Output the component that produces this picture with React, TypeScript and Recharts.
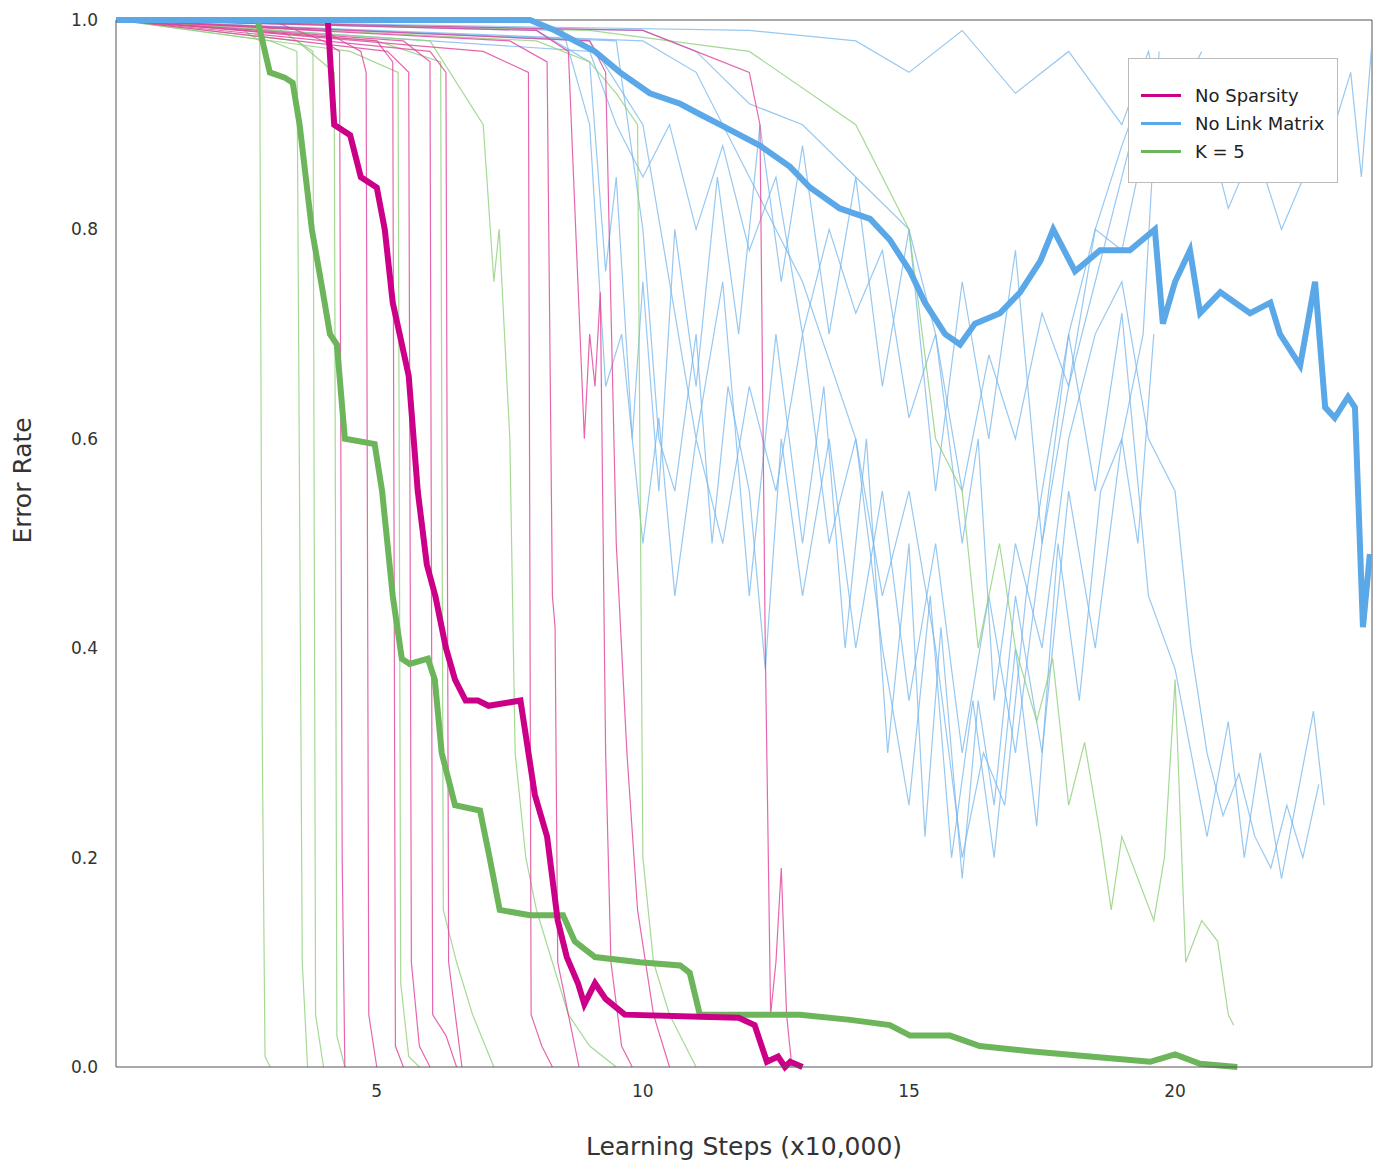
import { LineChart, Line, XAxis, YAxis, ReferenceLine } from 'recharts'

type P = [number, number][]

// thick (mean) curves
const noSparsity: P = [[0.1,1],[4.08,1],[4.2,0.9],[4.5,0.89],[4.7,0.85],[5.0,0.84],[5.15,0.8],[5.3,0.73],[5.43,0.7],[5.6,0.66],[5.77,0.55],[5.94,0.48],[6.1,0.45],[6.3,0.4],[6.47,0.37],[6.67,0.35],[6.9,0.35],[7.1,0.345],[7.7,0.35],[7.97,0.26],[8.2,0.22],[8.4,0.14],[8.57,0.105],[8.78,0.08],[8.9,0.06],[9.1,0.08],[9.3,0.065],[9.66,0.05],[11.07,0.048],[11.8,0.047],[12.1,0.04],[12.33,0.005],[12.54,0.01],[12.67,0],[12.77,0.005],[13.0,0]]
const kFive: P = [[0.1,1],[2.76,1],[2.99,0.95],[3.27,0.945],[3.42,0.94],[3.55,0.9],[3.78,0.8],[3.97,0.745],[4.12,0.7],[4.25,0.69],[4.4,0.6],[4.96,0.595],[5.1,0.55],[5.3,0.45],[5.47,0.39],[5.62,0.385],[5.96,0.39],[6.09,0.37],[6.22,0.3],[6.47,0.25],[6.94,0.245],[7.12,0.2],[7.31,0.15],[7.88,0.145],[8.5,0.145],[8.72,0.12],[9.1,0.105],[9.94,0.1],[10.7,0.097],[10.88,0.09],[11.07,0.05],[12.95,0.05],[13.9,0.045],[14.64,0.04],[15.02,0.03],[15.77,0.03],[16.33,0.02],[17.27,0.015],[18.4,0.01],[19.53,0.005],[20,0.012],[20.47,0.003],[21.17,0]]
const noLink: P = [[0.1,1],[7.88,1],[8.35,0.99],[9.1,0.97],[9.57,0.95],[10.13,0.93],[10.7,0.92],[11.07,0.91],[11.45,0.9],[12.2,0.88],[12.76,0.86],[13.14,0.84],[13.7,0.82],[14.27,0.81],[14.64,0.79],[15.02,0.76],[15.3,0.73],[15.68,0.7],[15.96,0.69],[16.24,0.71],[16.71,0.72],[17.09,0.74],[17.47,0.77],[17.71,0.8],[18.12,0.76],[18.59,0.78],[19.15,0.78],[19.62,0.8],[19.77,0.71],[20,0.75],[20.28,0.78],[20.47,0.72],[20.85,0.74],[21.41,0.72],[21.79,0.73],[21.97,0.7],[22.35,0.67],[22.63,0.75],[22.82,0.63],[23,0.62],[23.25,0.64],[23.38,0.63],[23.53,0.42],[23.66,0.49]]

// individual runs
const pinkRuns: P[] = [
  [[0.1,1],[3,1],[4,0.98],[4.3,0.97],[4.35,0.2],[4.4,0]],
  [[0.1,1],[4,0.99],[4.7,0.97],[4.8,0.95],[4.85,0.05],[5,0]],
  [[0.1,1],[5,0.98],[5.3,0.96],[5.35,0.02],[5.5,0]],
  [[0.1,1],[5.2,0.97],[5.6,0.95],[5.65,0.1],[5.8,0.02],[6,0]],
  [[0.1,1],[5.5,0.98],[6.0,0.96],[6.05,0.05],[6.3,0.03],[6.5,0]],
  [[0.1,1],[6,0.97],[6.3,0.95],[6.35,0.1],[6.6,0]],
  [[0.1,1],[7,0.97],[7.85,0.95],[7.9,0.05],[8.1,0.02],[8.3,0]],
  [[0.1,1],[7.5,0.98],[8.2,0.96],[8.3,0.45],[8.35,0.42],[8.4,0.1],[8.6,0.05],[8.8,0]],
  [[0.1,1],[8,0.99],[8.6,0.97],[8.9,0.6],[9.0,0.7],[9.1,0.65],[9.2,0.74],[9.3,0.3],[9.4,0.1],[9.6,0.02],[9.8,0]],
  [[0.1,1],[9,0.98],[9.3,0.95],[9.5,0.5],[9.7,0.3],[9.9,0.15],[10.2,0.05],[10.5,0]],
  [[0.1,1],[10,0.99],[11,0.97],[12,0.95],[12.2,0.9],[12.3,0.4],[12.4,0.05],[12.5,0.1],[12.6,0.19],[12.7,0.05],[12.8,0]],
]
const greenRuns: P[] = [
  [[0.1,1],[2.5,0.99],[2.8,0.98],[2.85,0.3],[2.9,0.01],[3.0,0]],
  [[0.1,1],[3,0.98],[3.5,0.97],[3.6,0.1],[3.7,0]],
  [[0.1,1],[3.2,0.99],[3.8,0.97],[3.85,0.05],[4.0,0]],
  [[0.1,1],[3.5,0.98],[4.2,0.95],[4.25,0.03],[4.4,0]],
  [[0.1,1],[4.5,0.97],[5.4,0.95],[5.45,0.08],[5.6,0.01],[5.8,0]],
  [[0.1,1],[5,0.98],[6.2,0.96],[6.25,0.15],[6.5,0.1],[6.8,0.05],[7.2,0]],
  [[0.1,1],[6,0.98],[7,0.9],[7.2,0.75],[7.3,0.8],[7.5,0.6],[7.6,0.3],[7.8,0.2],[8.0,0.15],[8.3,0.1],[8.6,0.05],[9,0.02],[9.5,0]],
  [[0.1,1],[8,0.98],[9,0.96],[9.5,0.93],[9.9,0.9],[10.0,0.2],[10.2,0.1],[10.5,0.05],[11,0]],
  [[0.1,1],[9,0.99],[12,0.97],[14,0.9],[15,0.8],[15.5,0.6],[16,0.55],[16.3,0.4],[16.7,0.5],[17,0.4],[17.4,0.33],[17.7,0.39],[18,0.25],[18.3,0.31],[18.6,0.22],[18.8,0.15],[19,0.22],[19.3,0.18],[19.6,0.14],[19.8,0.2],[20,0.37],[20.2,0.1],[20.5,0.14],[20.8,0.12],[21.0,0.05],[21.1,0.04]],
]
const blueRuns: P[] = [
  [[0.1,1],[8,0.99],[9,0.96],[9.3,0.76],[9.5,0.85],[9.8,0.6],[10,0.75],[10.3,0.55],[10.6,0.8],[11,0.65],[11.4,0.85],[11.8,0.7],[12.2,0.9],[12.6,0.75],[13,0.88],[13.5,0.7],[14,0.85],[14.5,0.65],[15,0.8],[15.5,0.55],[16,0.75],[16.5,0.6],[17,0.78],[17.5,0.5],[18,0.7],[18.5,0.55],[19,0.72],[19.5,0.45],[20,0.38],[20.3,0.3],[20.6,0.22],[21,0.33],[21.3,0.2],[21.6,0.3],[22,0.18],[22.3,0.26],[22.6,0.34],[22.8,0.25]],
  [[0.1,1],[9,0.98],[10,0.9],[11,0.6],[11.5,0.75],[12,0.45],[12.5,0.7],[13,0.5],[13.4,0.65],[13.8,0.4],[14.2,0.6],[14.6,0.3],[15,0.5],[15.3,0.22],[15.6,0.42],[16,0.18],[16.3,0.35],[16.6,0.25],[17,0.45],[17.5,0.3],[18,0.55],[18.5,0.4],[19,0.6],[19.3,0.5],[19.6,0.7]],
  [[0.1,1],[10,0.98],[11,0.95],[12,0.85],[13,0.75],[14,0.6],[14.5,0.4],[15,0.25],[15.4,0.45],[15.8,0.2],[16.2,0.35],[16.6,0.2],[17,0.4],[17.4,0.23],[17.8,0.5],[18.2,0.35],[18.6,0.55],[19,0.6],[19.4,0.7],[19.7,0.97]],
  [[0.1,1],[12,0.99],[14,0.98],[15,0.95],[16,0.99],[17,0.93],[18,0.97],[19,0.9],[19.5,0.97],[20,0.85],[20.5,0.92],[21,0.82],[21.5,0.88],[22,0.8],[22.5,0.86],[23,0.9],[23.3,0.95],[23.5,0.85],[23.7,0.98]],
  [[0.1,1],[9.5,0.98],[10,0.8],[10.3,0.6],[10.6,0.55],[11,0.7],[11.3,0.5],[11.6,0.65],[12,0.55],[12.3,0.38],[12.6,0.6],[13,0.45],[13.5,0.6],[14,0.4],[14.5,0.55],[15,0.35],[15.5,0.5],[16,0.3],[16.5,0.45],[17,0.3],[17.5,0.5],[18,0.65],[18.5,0.75],[19,0.85],[19.5,0.95]],
  [[0.1,1],[9,0.97],[9.5,0.9],[10,0.85],[10.5,0.9],[11,0.8],[11.5,0.88],[12,0.78],[12.5,0.85],[13,0.7],[13.5,0.8],[14,0.72],[14.5,0.78],[15,0.62],[15.5,0.7],[16,0.55],[16.5,0.68],[17,0.6],[17.5,0.72],[18,0.65],[18.5,0.8],[19,0.78],[19.5,0.9],[20,0.92],[20.5,0.97]],
  [[0.1,1],[10,0.99],[11,0.97],[12,0.92],[13,0.9],[14,0.85],[15,0.8],[15.5,0.7],[16,0.5],[16.3,0.6],[16.6,0.35],[17,0.5],[17.5,0.4],[18,0.6],[18.5,0.7],[19,0.75],[19.5,0.6],[20,0.55],[20.3,0.4],[20.6,0.3],[20.9,0.24],[21.2,0.28],[21.5,0.22],[21.8,0.19],[22.1,0.25],[22.4,0.2],[22.7,0.27]],
  [[0.1,1],[8.5,0.99],[9,0.9],[9.3,0.65],[9.6,0.7],[10,0.5],[10.3,0.62],[10.6,0.45],[11,0.6],[11.5,0.5],[12,0.65],[12.5,0.55],[13,0.7],[13.5,0.5],[14,0.6],[14.5,0.45],[15,0.55],[15.5,0.4],[16,0.2],[16.4,0.3],[16.8,0.25],[17.2,0.45],[17.5,0.55],[18,0.7],[18.5,0.8],[19,0.88],[19.5,0.95]],
]

const xTicks = [5, 10, 15, 20]
const yTicks = [0, 0.2, 0.4, 0.6, 0.8, 1.0]

const PINK = '#cc0088'
const BLUE = '#5aa8e8'
const GREEN = '#6db55a'

const toRows = (p: P) => p.map(([x, y]) => ({ x, y }))

const legendItems = [
  { name: 'No Sparsity', color: PINK },
  { name: 'No Link Matrix', color: BLUE },
  { name: 'K = 5', color: GREEN },
]

function LegendBox() {
  return (
    <div style={{ position: 'absolute', top: 58, left: 1128, boxSizing: 'border-box', width: 210, height: 125, border: '1px solid #bbb', background: '#fff', padding: '22px 10px 0 12px', fontSize: 18, color: '#222' }}>
      {legendItems.map(it => (
        <div key={it.name} style={{ display: 'flex', alignItems: 'center', height: 28 }}>
          <span style={{ width: 40, height: 3, background: it.color, marginRight: 14 }} />
          {it.name}
        </div>
      ))}
    </div>
  )
}

export default function App() {
  const tickStyle = { fontSize: 17, fill: '#333' }
  return (
    <div style={{ position: 'absolute', top: 0, left: 0, width: 1377, height: 1160, fontFamily: '"DejaVu Sans", sans-serif', background: '#fff' }}>
      <LineChart width={1377} height={1160} margin={{ top: 20, right: 5, left: 0, bottom: 63 }}>
        <XAxis xAxisId="b" dataKey="x" type="number" domain={[0.1, 23.7]} ticks={xTicks} tickLine={false}
          axisLine={{ stroke: '#555' }} tick={tickStyle} tickMargin={12} allowDataOverflow
          label={{ value: 'Learning Steps (x10,000)', position: 'insideBottom', offset: -58, fontSize: 25, fill: '#333' }} />
        <YAxis yAxisId="l" type="number" domain={[0, 1]} ticks={yTicks} tickLine={false} width={116}
          axisLine={{ stroke: '#555' }} tick={tickStyle} tickMargin={12} tickFormatter={(v: number) => v.toFixed(1)}
          label={{ value: 'Error Rate', angle: -90, position: 'insideLeft', offset: 22, fontSize: 25, fill: '#333' }} />
        <ReferenceLine xAxisId="b" yAxisId="l" y={1} stroke="#555" />
        <ReferenceLine xAxisId="b" yAxisId="l" x={23.7} stroke="#555" />
        {blueRuns.map((r, i) => (
          <Line key={'b' + i} xAxisId="b" yAxisId="l" data={toRows(r)} dataKey="y" stroke="#74b6ec" strokeOpacity={0.75} strokeWidth={1.2} dot={false} legendType="none" isAnimationActive={false} />
        ))}
        {greenRuns.map((r, i) => (
          <Line key={'g' + i} xAxisId="b" yAxisId="l" data={toRows(r)} dataKey="y" stroke="#8fcf7a" strokeOpacity={0.8} strokeWidth={1.2} dot={false} legendType="none" isAnimationActive={false} />
        ))}
        {pinkRuns.map((r, i) => (
          <Line key={'p' + i} xAxisId="b" yAxisId="l" data={toRows(r)} dataKey="y" stroke="#e0409a" strokeOpacity={0.8} strokeWidth={1.2} dot={false} legendType="none" isAnimationActive={false} />
        ))}
        <Line xAxisId="b" yAxisId="l" data={toRows(kFive)} dataKey="y" name="K = 5" stroke={GREEN} strokeWidth={6} dot={false} isAnimationActive={false} />
        <Line xAxisId="b" yAxisId="l" data={toRows(noSparsity)} dataKey="y" name="No Sparsity" stroke={PINK} strokeWidth={6} dot={false} isAnimationActive={false} />
        <Line xAxisId="b" yAxisId="l" data={toRows(noLink)} dataKey="y" name="No Link Matrix" stroke={BLUE} strokeWidth={6} dot={false} isAnimationActive={false} />
      </LineChart>
      <LegendBox />
    </div>
  )
}
